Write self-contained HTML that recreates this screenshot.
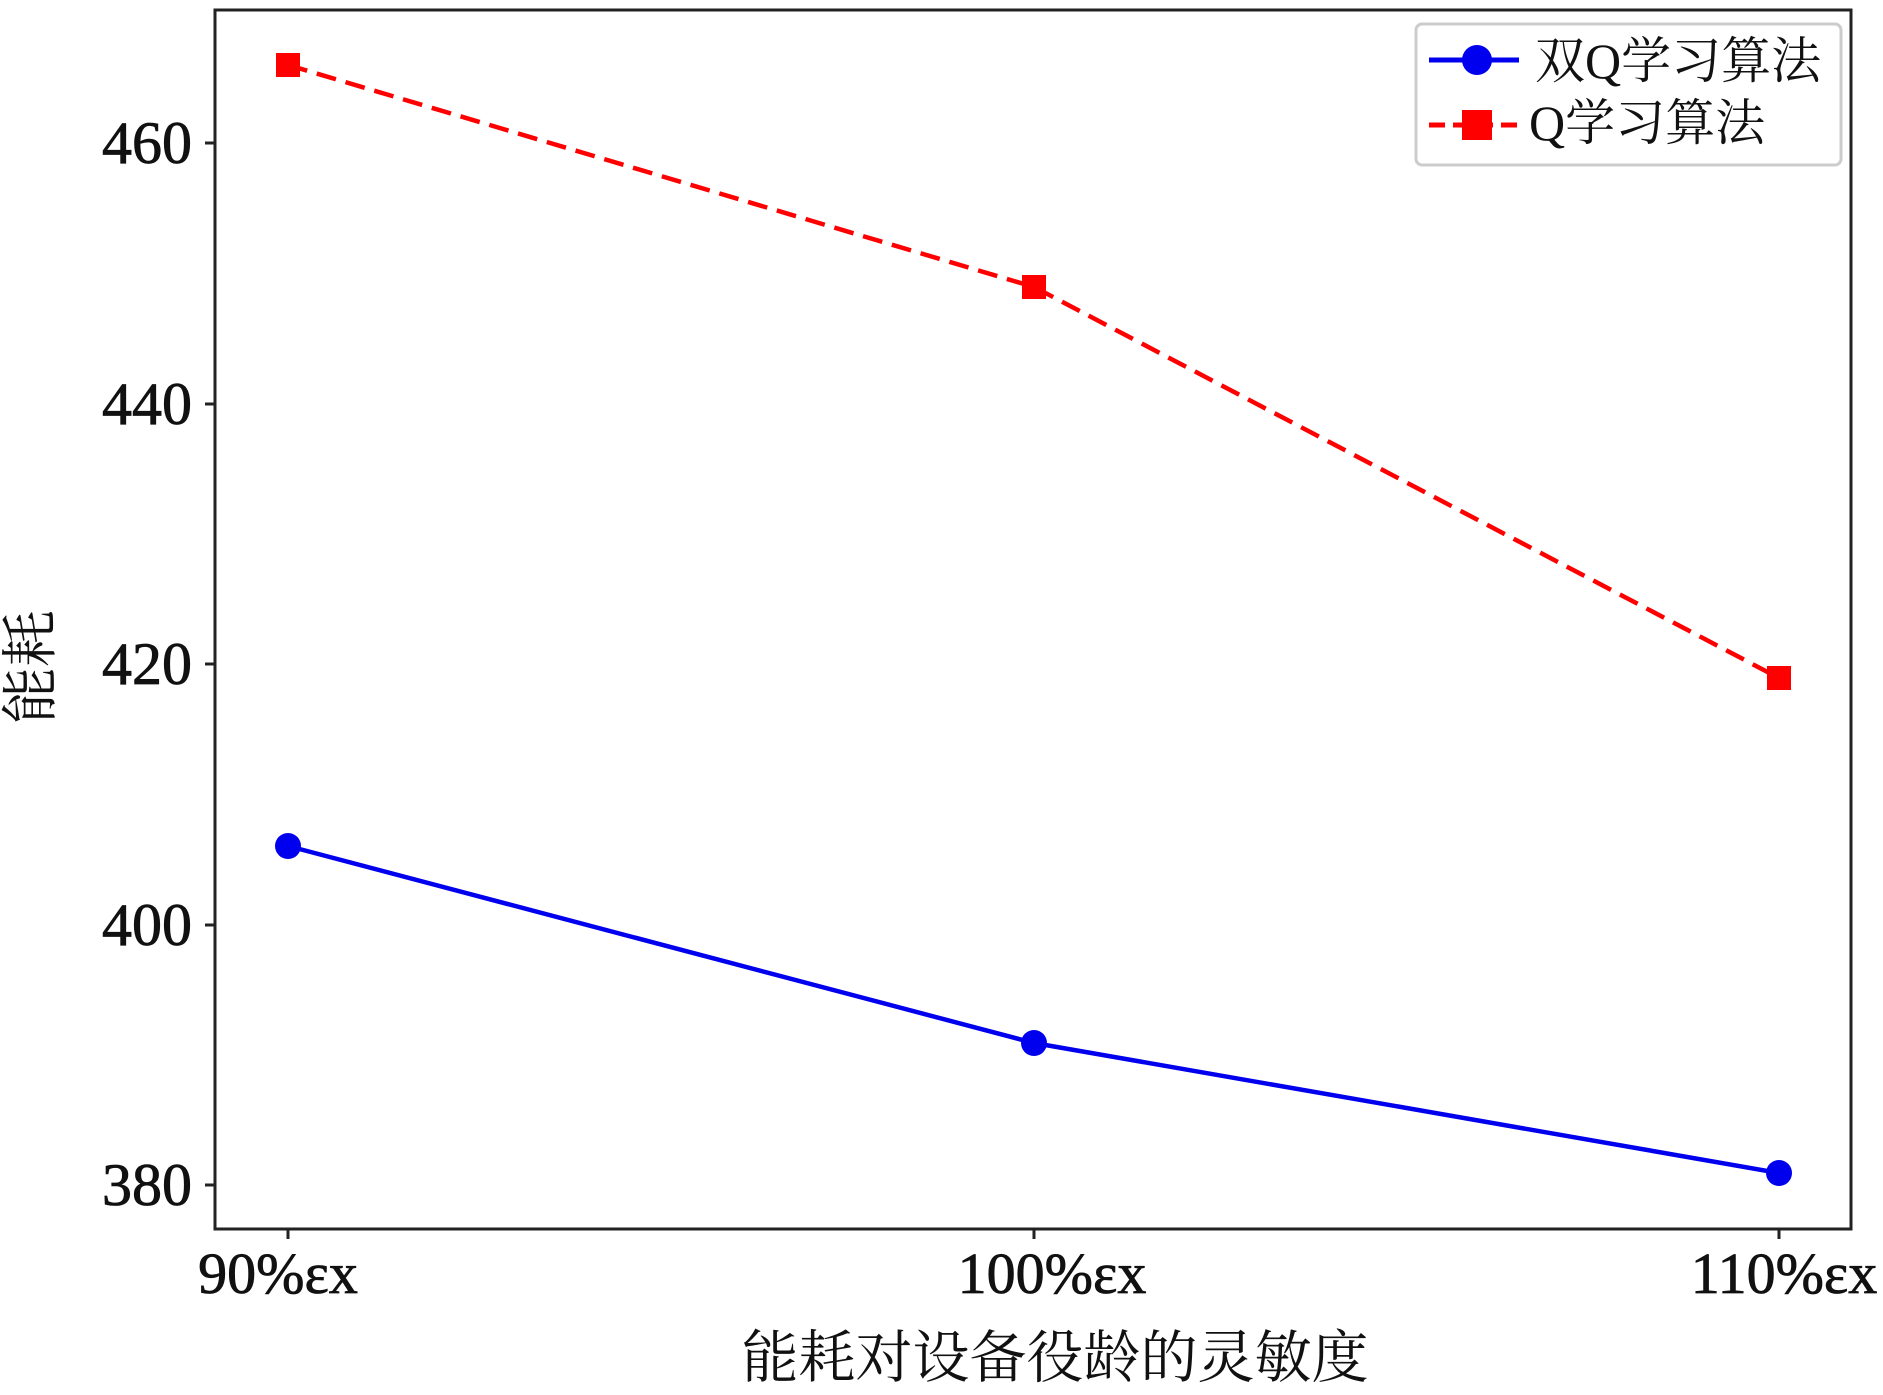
<!DOCTYPE html>
<html><head><meta charset="utf-8"><style>
body{margin:0;background:#fff}
</style></head><body>
<svg width="1883" height="1390" viewBox="0 0 1883 1390" xmlns="http://www.w3.org/2000/svg" font-family="'Liberation Serif','Noto Serif CJK SC',serif">
<rect x="0" y="0" width="1883" height="1390" fill="#fff"/>
<rect x="215" y="10" width="1636" height="1219" fill="none" stroke="#222" stroke-width="3"/>
<g stroke="#222" stroke-width="3">
<line x1="205" y1="143" x2="215" y2="143"/><line x1="205" y1="404" x2="215" y2="404"/><line x1="205" y1="664" x2="215" y2="664"/><line x1="205" y1="925" x2="215" y2="925"/><line x1="205" y1="1185" x2="215" y2="1185"/>
<line x1="288" y1="1229" x2="288" y2="1239"/><line x1="1034" y1="1229" x2="1034" y2="1239"/><line x1="1779" y1="1229" x2="1779" y2="1239"/>
</g>
<g font-size="60" fill="#111" text-anchor="end" stroke="#111" stroke-width="0.8">
<text x="192" y="163">460</text><text x="192" y="424">440</text><text x="192" y="684">420</text><text x="192" y="945">400</text><text x="192" y="1205">380</text>
</g>
<g font-size="58" fill="#111" text-anchor="middle" stroke="#111" stroke-width="0.8">
<text x="278" y="1293">90%εx</text><text x="1052" y="1293">100%εx</text><text x="1784" y="1293">110%εx</text>
</g>
<text x="1055" y="1377" font-size="57" text-anchor="middle" fill="#111">能耗对设备役龄的灵敏度</text>
<text transform="translate(50,667) rotate(-90)" font-size="57" text-anchor="middle" fill="#111">能耗</text>
<polyline points="288,846 1034,1043 1779,1173" fill="none" stroke="#0000ee" stroke-width="4.5"/>
<g fill="#0000ee"><circle cx="288" cy="846" r="13"/><circle cx="1034" cy="1043" r="13"/><circle cx="1779" cy="1173" r="13"/></g>
<polyline points="288,65 1034,287 1779,678" fill="none" stroke="#f00" stroke-width="4.5" stroke-dasharray="20,10"/>
<g fill="#f00"><rect x="276" y="53" width="24" height="24"/><rect x="1022" y="275" width="24" height="24"/><rect x="1767" y="666" width="24" height="24"/></g>
<rect x="1416" y="24" width="425" height="141" rx="6" fill="#fff" stroke="#ccc" stroke-width="3"/>
<line x1="1429" y1="60" x2="1519" y2="60" stroke="#0000ee" stroke-width="5"/>
<circle cx="1477" cy="60" r="15" fill="#0000ee"/>
<line x1="1429" y1="125" x2="1519" y2="125" stroke="#f00" stroke-width="5" stroke-dasharray="16,8"/>
<rect x="1462" y="110" width="30" height="30" fill="#f00"/>
<text x="1535" y="78" font-size="50" fill="#111">双Q学习算法</text>
<text x="1529" y="140" font-size="50" fill="#111">Q学习算法</text>
</svg>
</body></html>
